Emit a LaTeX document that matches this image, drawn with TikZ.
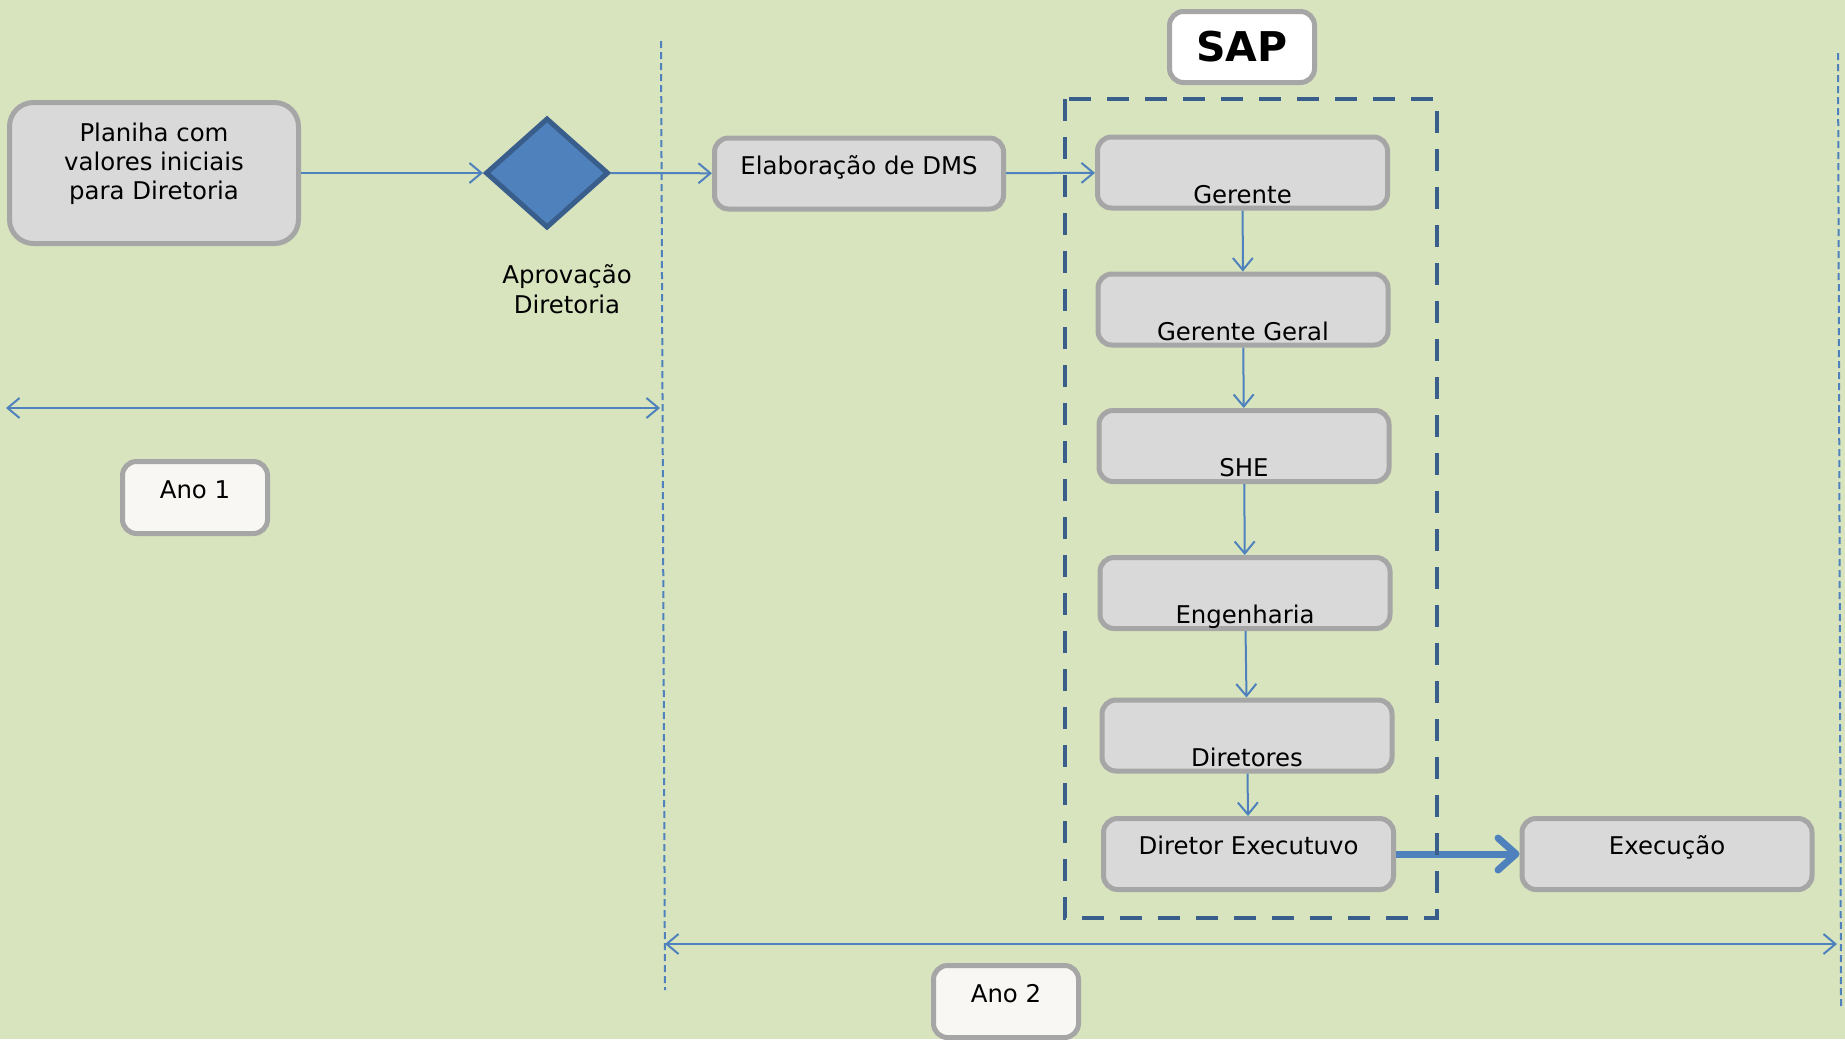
\documentclass[tikz,border=0pt]{standalone}
\usepackage{fontspec}
\setmainfont{DejaVu Sans}
\usetikzlibrary{arrows.meta}
\usetikzlibrary{positioning}
\usetikzlibrary{shapes.geometric}

\definecolor{bggreen}{RGB}{216,228,189}
\definecolor{boxgray}{RGB}{217,217,217}
\definecolor{edgegray}{RGB}{166,166,166}
\definecolor{flowblue}{RGB}{79,129,189}
\definecolor{darkblue}{RGB}{58,94,140}
\definecolor{paper}{RGB}{248,247,243}

\begin{document}
\begin{tikzpicture}
    [x=0.5pt, y=-0.5pt,
    font=\fontsize{12.2}{14.7}\selectfont,
    box/.style={rectangle, rounded corners=7pt, draw=edgegray, line width=2.5pt, fill=boxgray,
      minimum width=145pt, minimum height=35.5pt, inner xsep=2pt, inner ysep=0pt},
    toptext/.style={text height=18pt, text depth=17.5pt},
    lowtext/.style={text height=33pt, text depth=2.5pt},
    tag/.style={box, fill=paper, minimum width=72.5pt, minimum height=36pt, toptext},
    flow/.style={draw=flowblue, line width=1pt, -{Straight Barb[length=6pt,width=10pt]}},
    span/.style={flow, {Straight Barb[length=6pt,width=10pt]}-{Straight Barb[length=6pt,width=10pt]}},
    lane/.style={draw=flowblue, line width=1pt, dash pattern=on 3.5pt off 2pt}]

  \fill [bggreen] (0,0) rectangle (1845,1039);
  \useasboundingbox (0,0) rectangle (1845,1039);

  \coordinate (lane1top) at (661,41);
  \coordinate (lane1bot) at (665,990);
  \coordinate (lane2top) at (1838,53);
  \coordinate (lane2bot) at (1841,1006);
  \coordinate (year1start) at (6,408);
  \coordinate (year1end) at (660,408);
  \coordinate (year2start) at (665,944);
  \coordinate (year2end) at (1837,944);

  \draw [lane] (lane1top) -- (lane1bot);
  \draw [lane] (lane2top) -- (lane2bot);

  \node (planilha) [box, rounded corners=12pt, minimum width=144.5pt, minimum height=70.5pt,
    text height=19.25pt, text depth=51.25pt] at (154,173)
    {\begin{tabular}[t]{@{}c@{}}Planiha com\\valores iniciais\\para Diretoria\end{tabular}};
  \node (approval) [diamond, draw=darkblue, line width=2.5pt, fill=flowblue,
    minimum width=61.5pt, minimum height=55pt, inner sep=0pt] at (547,173) {};
  \node (approvaltext) [align=center] at (567,289) {Aprovação\\Diretoria};
  \node (dms) [box, minimum width=144.5pt, toptext] at (859,173.5) {Elaboração de DMS};

  \node (sap) [box, fill=white, minimum width=72.5pt,
    font=\fontsize{20.5}{24}\selectfont\bfseries] at (1242,47) {SAP};

  \node (gerente) [box, lowtext] at (1242.5,172.5) {Gerente};
  \node (geral) [box, lowtext] at (1243,309.5) {Gerente Geral};
  \node (she) [box, lowtext] at (1244,446) {SHE};
  \node (engenharia) [box, lowtext] at (1245,593) {Engenharia};
  \node (diretores) [box, lowtext] at (1247,735.5) {Diretores};
  \node (executivo) [box, toptext] at (1248.5,854) {Diretor Executuvo};
  \node (execucao) [box, toptext] at (1667,854) {Execução};

  \node (ano1) [tag] at (195,497.5) {Ano 1};
  \node (ano2) [tag] at (1006,1001.5) {Ano 2};

  \draw [flow] (planilha) -- (approval);
  \draw [flow] (approval) -- (dms);
  \draw [flow] (dms) -- (gerente);
  \draw [flow] (gerente) -- (geral);
  \draw [flow] (geral) -- (she);
  \draw [flow] (she) -- (engenharia);
  \draw [flow] (engenharia) -- (diretores);
  \draw [flow] (diretores) -- (executivo);
  \draw [draw=flowblue, line width=3.5pt,
    -{Straight Barb[round, length=9pt, width=16pt]}] (executivo) -- (execucao);

  \draw [span] (year1start) -- (year1end);
  \draw [span] (year2start) -- (year2end);

  \draw [darkblue, line width=2pt, dash pattern=on 11pt off 8pt] (1065,99) rectangle (1437,918);
\end{tikzpicture}
\end{document}
